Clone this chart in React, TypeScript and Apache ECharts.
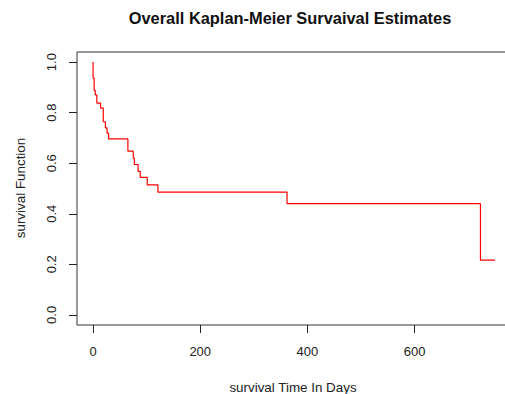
import React, { useEffect, useRef } from "react";
import * as echarts from "echarts";

// Kaplan-Meier step data (time of drop, survival after drop)
const dropTimes = [0, 2, 4, 7, 14, 19, 23, 26, 29, 65, 75, 77, 84, 88, 101, 121, 362, 723];
const survival = [0.937, 0.888, 0.87, 0.838, 0.818, 0.764, 0.74, 0.719, 0.696, 0.648, 0.62, 0.595, 0.568, 0.544, 0.514, 0.486, 0.44, 0.217];
const startSurvival = 1.0;
const endTime = 750;

const xTicks = [0, 200, 400, 600];
const yTicks = [0, 0.2, 0.4, 0.6, 0.8, 1.0];

const titleText = "Overall Kaplan-Meier Survaival Estimates";
const xTitle = "survival Time In Days";
const yTitle = "survival Function";

const FONT = "'Liberation Sans', Arial, sans-serif";

export default function App() {
  const ref = useRef<HTMLDivElement>(null);

  useEffect(() => {
    if (!ref.current) return;
    const chart = echarts.init(ref.current, undefined, { renderer: "svg" });

    const pts: [number, number][] = [[0, startSurvival]];
    let prev = startSurvival;
    for (let i = 0; i < dropTimes.length; i++) {
      pts.push([dropTimes[i], prev]);
      pts.push([dropTimes[i], survival[i]]);
      prev = survival[i];
    }
    pts.push([endTime, prev]);

    const xMin = -0.04 * endTime;
    const xMax = endTime * 1.04;

    chart.setOption({
      animation: false,
      backgroundColor: "#ffffff",
      grid: {
        left: 77,
        top: 52,
        right: -6,
        bottom: 69,
        containLabel: false,
        outerBoundsMode: "none",
        show: true,
        borderColor: "#333",
        borderWidth: 1,
        backgroundColor: "transparent",
      },
      xAxis: {
        type: "value",
        min: xMin,
        max: xMax,
        splitLine: { show: false },
        axisLine: { show: false, onZero: false },
        axisTick: {
          show: true,
          inside: false,
          length: 8,
          customValues: xTicks,
          lineStyle: { color: "#222", width: 1 },
        },
        axisLabel: {
          show: true,
          customValues: xTicks,
          margin: 20,
          color: "#222",
          fontSize: 13,
          fontFamily: FONT,
          formatter: (v: number) => String(Math.round(v)),
        },
      },
      yAxis: {
        type: "value",
        min: -0.04,
        max: 1.04,
        splitLine: { show: false },
        axisLine: { show: false, onZero: false },
        axisTick: {
          show: true,
          inside: false,
          length: 8,
          customValues: yTicks,
          lineStyle: { color: "#222", width: 1 },
        },
        axisLabel: {
          show: true,
          customValues: yTicks,
          rotate: 90,
          margin: 19,
          color: "#222",
          fontSize: 13,
          fontFamily: FONT,
          formatter: (v: number) => v.toFixed(1),
        },
      },
      series: [
        {
          type: "line",
          data: pts,
          showSymbol: false,
          symbol: "none",
          lineStyle: { color: "#ff0000", width: 1.2 },
          silent: true,
        },
      ],
      graphic: [
        {
          type: "text",
          x: 290,
          y: 18,
          style: {
            text: titleText,
            fill: "#111",
            font: `bold 16.4px ${FONT}`,
            textAlign: "center",
            textVerticalAlign: "middle",
          },
        },
        {
          type: "text",
          x: 293,
          y: 387,
          style: {
            text: xTitle,
            fill: "#222",
            font: `13.4px ${FONT}`,
            textAlign: "center",
            textVerticalAlign: "middle",
          },
        },
        {
          type: "text",
          x: 20,
          y: 188,
          rotation: Math.PI / 2,
          style: {
            text: yTitle,
            fill: "#222",
            font: `13.4px ${FONT}`,
            textAlign: "center",
            textVerticalAlign: "middle",
          },
        },
      ],
    });

    return () => chart.dispose();
  }, []);

  return (
    <div
      ref={ref}
      style={{ position: "absolute", left: 0, top: 0, width: 505, height: 394 }}
    />
  );
}
